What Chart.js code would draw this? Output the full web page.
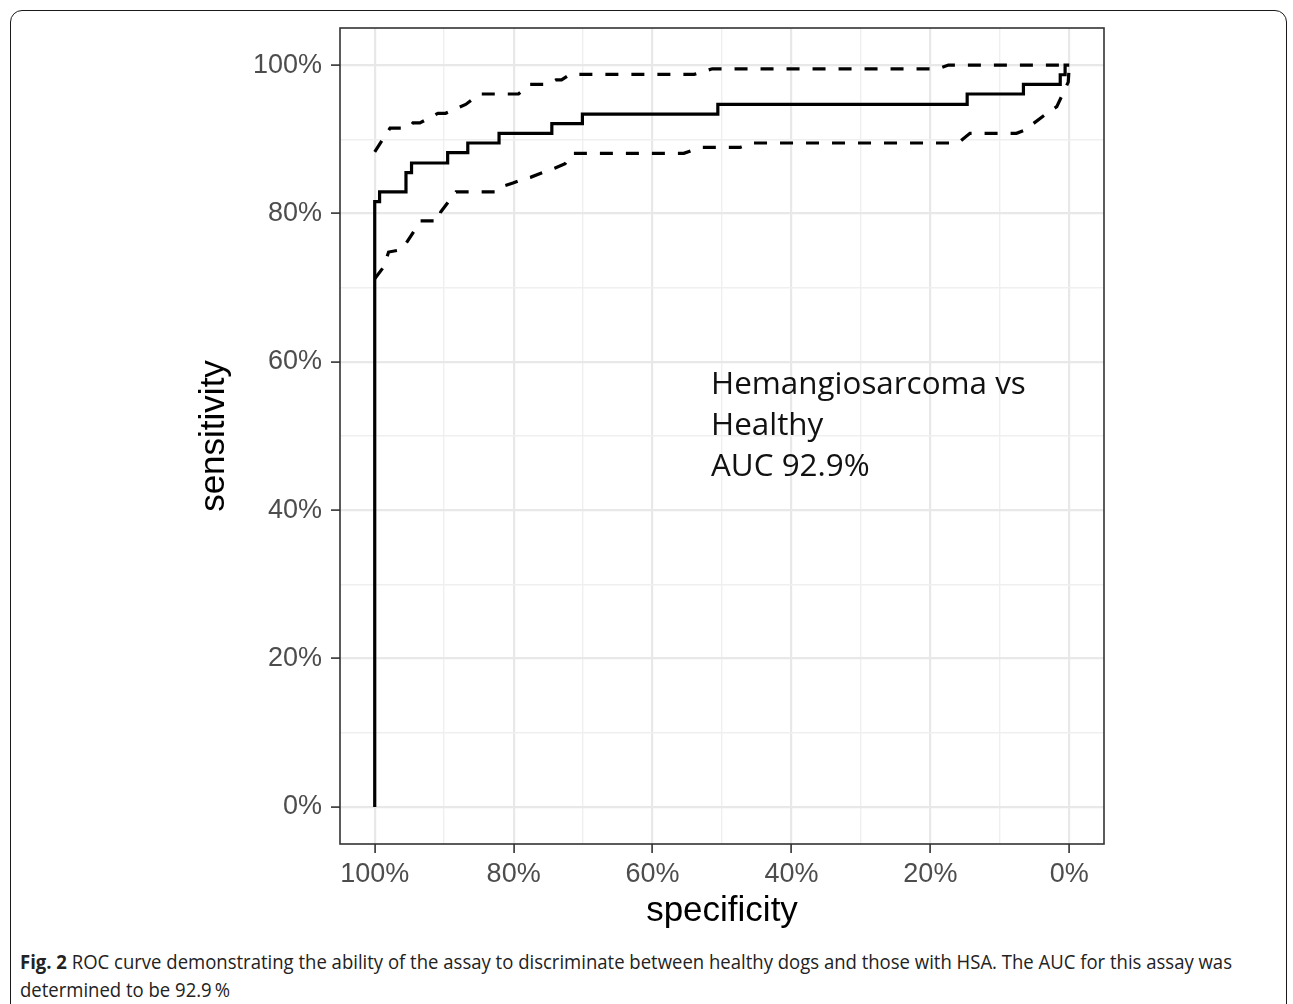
<!DOCTYPE html>
<html>
<head>
<meta charset="utf-8">
<script src="https://cdn.jsdelivr.net/npm/chart.js@4.4.0/dist/chart.umd.min.js"></script>
<style>
html,body{margin:0;padding:0;background:#fff;}
body{width:1293px;height:1004px;position:relative;overflow:hidden;}
#frame{position:absolute;left:10px;top:10px;width:1277px;height:1030px;border:1.5px solid #1a1a1a;border-radius:12px;box-sizing:border-box;}
#wrap{position:absolute;left:0;top:0;width:1293px;height:932px;}
#note{position:absolute;left:711px;top:361px;font-family:"Open Sans",sans-serif;font-size:31.4px;line-height:41px;color:#111;white-space:nowrap;}
#caption{position:absolute;left:20px;top:948px;font-family:"Open Sans",sans-serif;font-size:20px;line-height:28px;color:#222;white-space:nowrap;transform-origin:0 0;}
#caption span{display:inline-block;}
</style>
</head>
<body>
<div id="frame"></div>
<div id="wrap"><canvas id="c" width="1293" height="932"></canvas></div>
<div id="note">Hemangiosarcoma vs<br>Healthy<br>AUC 92.9%</div>
<div id="caption"><span id="capLine1"><b>Fig. 2</b> ROC curve demonstrating the ability of the assay to discriminate between healthy dogs and those with HSA. The AUC for this assay was</span><br><span>determined to be 92.9&#8201;%</span></div>
<script>
// ROC curve (specificity %, sensitivity %)
const rocSpecificity = [100,100,99.3,99.3,95.5,95.5,94.7,94.7,89.5,89.5,86.6,86.6,82.1,82.1,74.5,74.5,70.1,70.1,50.6,50.6,14.7,14.7,6.6,6.6,1.3,1.3,0.6,0.6,0];
const rocSensitivity = [0,81.6,81.6,82.9,82.9,85.5,85.5,86.8,86.8,88.2,88.2,89.5,89.5,90.8,90.8,92.1,92.1,93.4,93.4,94.7,94.7,96.1,96.1,97.4,97.4,98.7,98.7,100,100];

// Upper confidence bound
const ciUpperSpecificity = [100,97.8,95.2,94.5,93.5,90.9,89.8,86.9,84.9,79.3,77.7,75.1,73.9,73.1,71.9,54.0,51.4,18.9,17.4,0];
const ciUpperSensitivity = [88.3,91.5,91.5,92.2,92.2,93.5,93.5,94.7,96.1,96.1,97.4,97.4,98.0,98.0,98.75,98.75,99.5,99.5,100,100];

// Lower confidence bound
const ciLowerSpecificity = [100,98.7,98.0,96.3,95.8,93.4,90.8,90.5,88.3,82.4,81.4,80.1,78.4,77.5,75.9,74.1,72.6,71.6,55.5,53.2,47.4,45.7,16.0,14.3,7.6,6.2,5.2,3.2,1.8,0.9,0.15,0];
const ciLowerSensitivity = [71.2,72.8,74.8,75.1,75.5,79.0,79.0,80.2,82.9,82.9,83.7,84.1,84.7,84.9,85.5,86.1,86.7,88.1,88.1,88.9,88.9,89.5,89.5,90.8,90.8,91.3,92.1,93.5,94.4,96.2,97.7,100];

// Axis ticks
const xTickValues = [0,10,20,30,40,50,60,70,80,90,100];
const yTickValues = [0,10,20,30,40,50,60,70,80,90,100];
const majorTickValues = [0,20,40,60,80,100];

const toPoints = (xs, ys) => xs.map((x, i) => ({x: x, y: ys[i]}));
const isMajor = v => majorTickValues.includes(v);

// fit caption's first line to the reference width (condensed look)
(function () {
  const cap = document.getElementById('caption');
  const w = document.getElementById('capLine1').getBoundingClientRect().width;
  if (w > 0) cap.style.transform = 'scaleX(' + (1212 / w) + ')';
})();

const tickFont = {family: '"Liberation Sans", Arial, sans-serif', size: 27};
const titleFont = {family: '"Liberation Sans", Arial, sans-serif', size: 35, lineHeight: 1.2};

const gridOpts = {
  color: c => (c.tick && isMajor(c.tick.value)) ? '#e8e8e8' : '#efefef',
  lineWidth: c => (c.tick && isMajor(c.tick.value)) ? 2.2 : 1.4,
  tickColor: c => (c.tick && isMajor(c.tick.value)) ? '#333333' : 'rgba(0,0,0,0)',
  tickLength: 9,
  tickWidth: 1.6,
  drawTicks: true
};

const panelBorder = {
  id: 'panelBorder',
  afterDatasetsDraw(chart) {
    const {ctx, chartArea: a} = chart;
    ctx.save();
    ctx.strokeStyle = '#333333';
    ctx.lineWidth = 1.6;
    ctx.strokeRect(a.left, a.top, a.right - a.left, a.bottom - a.top);
    ctx.restore();
  }
};

new Chart(document.getElementById('c'), {
  type: 'scatter',
  data: {
    datasets: [
      {
        data: toPoints(ciUpperSpecificity, ciUpperSensitivity),
        showLine: true, borderColor: '#000', borderWidth: 3.2, borderDash: [13, 13],
        pointRadius: 0, fill: false, tension: 0
      },
      {
        data: toPoints(ciLowerSpecificity, ciLowerSensitivity),
        showLine: true, borderColor: '#000', borderWidth: 3.2, borderDash: [13, 13],
        pointRadius: 0, fill: false, tension: 0
      },
      {
        data: toPoints(rocSpecificity, rocSensitivity),
        showLine: true, borderColor: '#000', borderWidth: 3.2,
        pointRadius: 0, fill: false, tension: 0
      }
    ]
  },
  options: {
    responsive: false,
    animation: false,
    layout: {padding: {left: 193, right: 189, top: 28, bottom: 0}},
    plugins: {legend: {display: false}, tooltip: {enabled: false}},
    scales: {
      x: {
        type: 'linear', reverse: true, min: -5, max: 105,
        afterBuildTicks: s => { s.ticks = xTickValues.map(v => ({value: v})); },
        afterFit: s => { s.height = 88; },
        grid: gridOpts,
        border: {display: false},
        ticks: {
          autoSkip: false, maxRotation: 0, padding: 5, color: '#4d4d4d', font: tickFont,
          callback: v => isMajor(v) ? v + '%' : ''
        },
        title: {display: true, text: 'specificity', color: '#000', font: titleFont, padding: {top: 0, bottom: 0}}
      },
      y: {
        type: 'linear', min: -5, max: 105,
        afterBuildTicks: s => { s.ticks = yTickValues.map(v => ({value: v})); },
        afterFit: s => { s.width = 147; },
        grid: gridOpts,
        border: {display: false},
        ticks: {
          autoSkip: false, padding: 9, color: '#4d4d4d', font: tickFont,
          callback: v => isMajor(v) ? v + '%' : ''
        },
        title: {display: true, text: 'sensitivity', color: '#000', font: titleFont, padding: {top: 0, bottom: 0}}
      }
    }
  },
  plugins: [panelBorder]
});
</script>
</body>
</html>
